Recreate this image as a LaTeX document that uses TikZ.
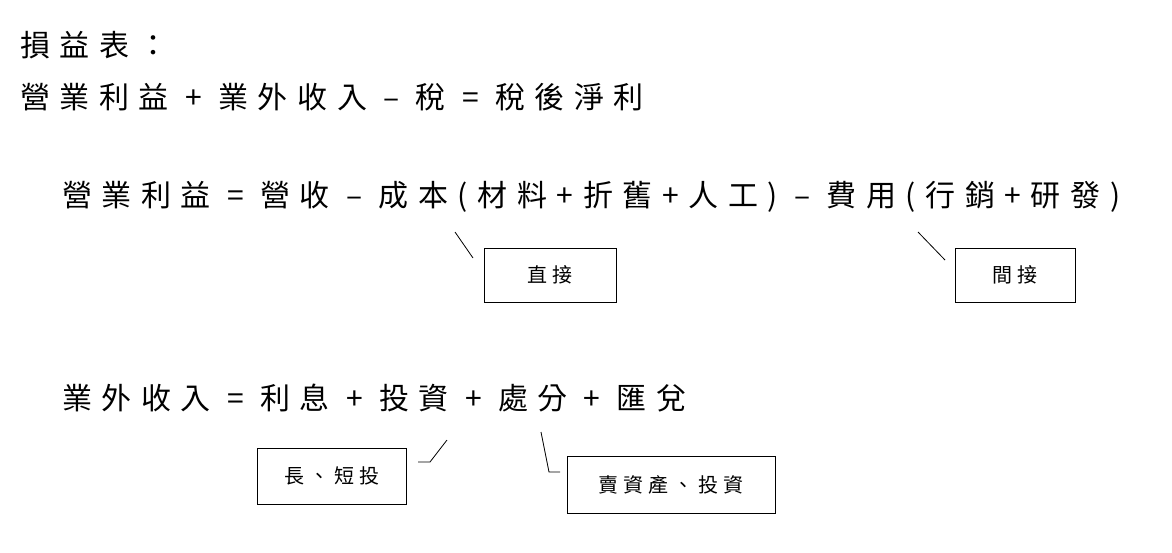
\documentclass[tikz,border=0pt]{standalone}
\usepackage{fontspec}
\setmainfont{Noto Sans CJK TC}
\newfontfamily\wide[LetterSpace=32]{Noto Sans CJK TC}
\newfontfamily\wideb[LetterSpace=25]{Noto Sans CJK TC}
\begin{document}
\begin{tikzpicture}[x=1pt,y=-1pt,
  big/.style={anchor=west,inner sep=0pt,font=\wide\fontsize{30}{34}\selectfont},
  box/.style={draw,line width=1pt,minimum height=54pt,font=\wideb\fontsize{20}{24}\selectfont},
  ln/.style={line width=0.8pt}]
\useasboundingbox[fill=white] (0,0) rectangle (1172,552);
\node[big] (t1) at (20,45) {損益表：};
\node[big] (t2) at (20,97) {營業利益 + 業外收入 – 稅 = 稅後淨利};
\node[big] (t3) at (62,197) {營業利益 = 營收 – 成本(材料+折舊+人工) – 費用(行銷+研發)};
\node[big] (t4) at (62,398) {業外收入 = 利息 + 投資 + 處分 + 匯兌};
\node[box,minimum width=132pt] (b1) at (550,275) {直接};
\node[box,minimum width=120pt] (b2) at (1015,275) {間接};
\node[box,minimum width=149pt,minimum height=56pt] (b3) at (331.5,476) {長、短投};
\node[box,minimum width=208pt,minimum height=57pt] (b4) at (671,484.5) {賣資產、投資};
\coordinate (c1) at (455,232); \coordinate (c1e) at (473,258);
\coordinate (c2) at (918,232); \coordinate (c2e) at (945,260);
\draw[ln] (c1) -- (c1e);
\draw[ln] (c2) -- (c2e);
\draw[ln] (418,462) -- (430,462) -- (447,440);
\draw[ln] (541,432) -- (549,472) -- (560,472);
\end{tikzpicture}
\end{document}
